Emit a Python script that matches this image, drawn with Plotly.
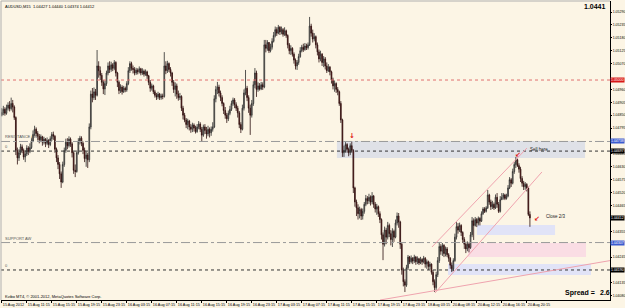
import plotly.graph_objects as go

# ---------------- data ----------------
symbol_header = "AUDUSD,M15  1.04427 1.04440 1.04374 1.04412"
current_bid = "1.0441"
spread_text = "2.6"
copyright_text = "Kvibo MT4, \u00a9 2001-2012, MetaQuotes Software Corp."

time_labels = ["15 Aug 2012", "15 Aug 11:15", "15 Aug 15:15", "15 Aug 19:15", "15 Aug 23:15",
               "16 Aug 03:15", "16 Aug 07:15", "16 Aug 11:15", "16 Aug 15:15", "16 Aug 19:15",
               "16 Aug 23:15", "17 Aug 03:15", "17 Aug 07:15", "17 Aug 11:15", "17 Aug 15:15",
               "17 Aug 19:15", "17 Aug 23:15", "18 Aug 03:15", "20 Aug 08:15", "20 Aug 12:15",
               "20 Aug 16:15", "20 Aug 20:15"]
time_label_bars = [0, 16, 32, 48, 64, 80, 96, 112, 128, 144, 160, 176, 192, 208, 224,
                   240, 256, 272, 288, 304, 320, 336]

# visible price scale labels (those hidden under the coloured price boxes are omitted)
price_ticks = [1.05290, 1.05235, 1.05180, 1.05125, 1.05070, 1.04960, 1.04905,
               1.04850, 1.04795, 1.04685, 1.04630, 1.04575, 1.04520, 1.04465,
               1.04355, 1.04245, 1.04135, 1.04080]

# prices in points (1e-5)
first_open_pts = 104850
close_pts = [
    104862,104875,104858,104880,104893,104878,104900,104885,104840,104700,
    104668,104690,104715,104700,104672,104685,104710,104695,104712,104740,
    104768,104790,104772,104760,104745,104758,104735,104748,104730,104742,
    104725,104750,104768,104760,104705,104668,104640,104600,104565,104640,
    104700,104735,104720,104748,104728,104690,104615,104610,104690,104740,
    104752,104730,104700,104665,104680,104660,104800,104940,104925,104950,
    104935,105060,105040,105020,104990,104962,104985,105030,105060,105045,
    105065,105050,105075,105030,104990,104955,104970,104950,104965,104958,
    104985,105040,105070,105050,105045,105030,105042,105035,105048,105030,
    105038,105025,105035,105018,104990,104965,104975,104950,104935,104928,
    104940,104925,104932,104930,105060,105040,105070,105045,105030,104990,
    104960,104975,104940,104925,104930,104880,104850,104830,104810,104825,
    104800,104790,104808,104795,104780,104800,104812,104790,104765,104800,
    104785,104770,104790,104775,104790,104800,104920,104960,104970,104945,
    104925,104900,104870,104850,104835,104858,104875,104900,104915,104895,
    104880,104860,104810,104790,104880,104945,104965,104925,104880,104850,
    104900,104980,105030,104960,104975,104962,104980,104970,105150,105135,
    105160,105125,105140,105165,105190,105215,105200,105225,105205,105215,
    105195,105210,105190,105150,105125,105135,105110,105085,105060,105075,
    105100,105125,105140,105130,105145,105138,105150,105230,105200,105175,
    105185,105150,105120,105090,105110,105075,105090,105060,105040,105055,
    105035,105000,104975,104985,104960,104950,104900,104830,104690,104700,
    104725,104705,104690,104720,104700,104540,104480,104455,104430,104448,
    104420,104440,104470,104495,104485,104500,104480,104505,104470,104450,
    104460,104430,104405,104340,104300,104360,104330,104380,104345,104320,
    104355,104330,104390,104420,104395,104300,104190,104140,104125,104200,
    104245,104225,104240,104228,104245,104225,104238,104220,104235,104225,
    104240,104215,104225,104205,104215,104180,104140,104115,104170,104230,
    104290,104270,104295,104260,104280,104255,104240,104210,104195,104230,
    104330,104375,104360,104380,104350,104320,104300,104280,104300,104285,
    104340,104400,104380,104405,104390,104410,104398,104430,104450,104440,
    104455,104510,104480,104460,104470,104455,104500,104470,104440,104490,
    104500,104510,104495,104505,104540,104575,104560,104610,104640,104660,
    104635,104620,104580,104560,104545,104555,104540,104427,104412]
high_pts = [
    104880,104890,104884,104895,104905,104910,104925,104915,104892,104845,
    104712,104705,104728,104725,104708,104700,104722,104718,104730,104752,
    104785,104805,104798,104782,104770,104768,104762,104758,104752,104755,
    104748,104760,104778,104780,104765,104712,104680,104650,104610,104652,
    104712,104750,104752,104760,104755,104735,104695,104640,104700,104752,
    104762,104760,104738,104712,104695,104690,104815,104955,104966,104968,
    104962,105128,105080,105058,105030,105000,104998,105040,105075,105080,
    105078,105072,105085,105080,105035,104998,104982,104978,104975,104972,
    104995,105055,105080,105078,105062,105055,105052,105050,105058,105052,
    105050,105045,105045,105040,105022,105000,104985,104980,104958,104945,
    104950,104945,104942,104942,105119,105080,105082,105075,105055,105035,
    105000,104990,104985,104955,104945,104935,104890,104860,104838,104835,
    104830,104812,104818,104815,104805,104812,104825,104820,104800,104810,
    104812,104800,104805,104798,104802,104820,104935,104975,104992,104980,
    104955,104935,104905,104885,104860,104870,104890,104912,104925,104923,
    104905,104890,104868,104820,104895,104960,105043,104975,104935,104895,
    104915,104995,105051,105040,104990,104987,104992,104990,105171,105171,
    105170,105162,105155,105178,105205,105228,105225,105235,105230,105228,
    105222,105225,105215,105195,105158,105148,105140,105118,105092,105085,
    105112,105140,105150,105155,105158,105155,105160,105269,105240,105215,
    105200,105190,105160,105130,105125,105115,105102,105098,105075,105068,
    105060,105040,105010,104998,104990,104970,104955,104910,104835,104720,
    104735,104731,104712,104730,104738,104705,104545,104490,104470,104460,
    104455,104452,104480,104510,104505,104515,104508,104522,104510,104480,
    104472,104465,104440,104410,104350,104375,104370,104395,104388,104360,
    104368,104362,104405,104435,104433,104400,104305,104200,104150,104212,
    104254,104250,104252,104245,104255,104250,104248,104242,104246,104240,
    104250,104245,104235,104230,104225,104218,104190,104150,104182,104245,
    104309,104300,104305,104300,104290,104288,104262,104245,104222,104240,
    104345,104394,104390,104392,104385,104355,104330,104310,104312,104308,
    104352,104416,104410,104416,104412,104418,104415,104440,104458,104458,
    104462,104531,104515,104490,104485,104478,104512,104518,104480,104505,
    104518,104518,104515,104515,104552,104586,104582,104622,104650,104672,
    104665,104645,104630,104590,104570,104565,104560,104545,104440]
low_pts = [
    104845,104850,104848,104852,104870,104866,104870,104862,104830,104680,
    104640,104655,104680,104688,104660,104650,104676,104680,104688,104706,
    104735,104760,104760,104742,104730,104735,104720,104725,104714,104722,
    104710,104718,104740,104745,104690,104650,104620,104578,104540,104560,
    104630,104690,104705,104712,104715,104670,104600,104586,104605,104682,
    104725,104718,104684,104650,104630,104625,104650,104790,104905,104915,
    104915,104930,105010,105000,104975,104940,104936,104975,105020,105030,
    105035,105038,105042,105015,104970,104940,104945,104938,104945,104948,
    104950,104978,105030,105040,105028,105020,105022,105024,105028,105020,
    105022,105015,105018,105005,104978,104950,104955,104940,104925,104915,
    104918,104915,104916,104918,104925,105025,105030,105034,105015,104975,
    104945,104930,104920,104912,104915,104868,104832,104820,104795,104790,
    104785,104775,104778,104780,104772,104775,104790,104778,104736,104758,
    104770,104750,104760,104755,104762,104780,104795,104905,104940,104930,
    104910,104888,104855,104835,104817,104825,104850,104868,104890,104880,
    104868,104840,104795,104774,104785,104870,104935,104910,104860,104766,
    104840,104890,104965,104928,104950,104955,104957,104958,104965,105118,
    105125,105115,105118,105130,105160,105182,105188,105195,105192,105195,
    105185,105188,105180,105135,105110,105107,105100,105070,105045,105043,
    105065,105095,105118,105120,105125,105128,105130,105145,105185,105160,
    105165,105135,105105,105075,105080,105060,105055,105045,105030,105034,
    105020,104985,104960,104950,104945,104935,104890,104817,104672,104672,
    104690,104690,104675,104680,104690,104518,104460,104420,104405,104410,
    104403,104405,104430,104462,104470,104472,104465,104470,104455,104435,
    104425,104416,104390,104320,104232,104290,104300,104320,104330,104295,
    104288,104310,104325,104380,104370,104280,104170,104120,104096,104118,
    104190,104215,104218,104215,104220,104212,104215,104211,104215,104212,
    104218,104200,104195,104190,104192,104170,104125,104096,104105,104160,
    104220,104255,104250,104245,104248,104245,104225,104195,104181,104185,
    104225,104320,104345,104352,104335,104305,104280,104262,104270,104265,
    104280,104330,104318,104375,104373,104380,104380,104395,104425,104433,
    104435,104450,104468,104446,104450,104446,104450,104455,104433,104435,
    104488,104490,104488,104490,104500,104535,104544,104555,104600,104625,
    104629,104605,104565,104545,104531,104532,104525,104420,104374]
open_pts = [first_open_pts] + close_pts[:-1]

# horizontal levels
level_prices = [1.05000, 1.04738, 1.04697, 1.04307, 1.04190]
level_names = ["", "RESISTANCE AW", "0", "SUPPORT AW", "0"]

# zones: (bar_from, bar_to, price_low, price_high)
zone_bar_from = [214.5, 304.1, 298.4, 285.6]
zone_bar_to = [373.3, 354.1, 373.9, 377.1]
zone_low = [1.04668, 1.04339, 1.04245, 1.04169]
zone_high = [1.04740, 1.04382, 1.04305, 1.04215]

# trend lines: (bar0, price0, bar1, price1)
trend_bar0 = [275.3, 277.3, 242.1]
trend_price0 = [1.04288, 1.04092, 1.04062]
trend_bar1 = [336.1, 345.7, 389.3]
trend_price1 = [1.04710, 1.04608, 1.04230]

# axis price boxes
axis_box_prices = [1.05000, 1.04738, 1.04697, 1.04412, 1.04307, 1.04190]

n = len(close_pts)
assert len(high_pts) == n and len(low_pts) == n
bars = list(range(n))
to_price = lambda v: [x / 1e5 for x in v]

BG = "#FCF5E5"
FONT = "Liberation Sans"

fig = go.Figure()
fig.add_trace(go.Candlestick(
    x=bars, open=to_price(open_pts), high=to_price(high_pts),
    low=to_price(low_pts), close=to_price(close_pts),
    increasing=dict(line=dict(color="#2a2a2a", width=0.8), fillcolor="#BDB8B0"),
    decreasing=dict(line=dict(color="#2a0c0c", width=0.8), fillcolor="#7A1C1C"),
    whiskerwidth=0, showlegend=False, hoverinfo="skip"))

shapes = []
zone_colors = ["#DFE1E7", "#E1E3F7", "#FADDE4", "#E1E3F7"]
for b0, b1, lo, hi, col in zip(zone_bar_from, zone_bar_to, zone_low, zone_high, zone_colors):
    shapes.append(dict(type="rect", xref="x", yref="y", x0=b0, x1=b1, y0=lo, y1=hi,
                       fillcolor=col, line=dict(width=0), layer="below"))

level_styles = [("#E07070", "dot"), ("#9a9a9a", "dashdot"), ("#333333", "dot"),
                ("#9a9a9a", "dashdot"), ("#333333", "dot")]
for p, (col, dash) in zip(level_prices, level_styles):
    shapes.append(dict(type="line", xref="paper", yref="y", x0=0, x1=1, y0=p, y1=p,
                       line=dict(color=col, width=1, dash=dash)))

for b0, p0, b1, p1 in zip(trend_bar0, trend_price0, trend_bar1, trend_price1):
    shapes.append(dict(type="line", xref="x", yref="y", x0=b0, y0=p0, x1=b1, y1=p1,
                       line=dict(color="#EFA3AE", width=1)))

# chart frame (top and left)
shapes.append(dict(type="line", xref="paper", yref="paper", x0=0, x1=1, y0=1, y1=1,
                   line=dict(color="#b0b0b0", width=1)))
shapes.append(dict(type="line", xref="paper", yref="paper", x0=0, x1=0, y0=0, y1=1,
                   line=dict(color="#b0b0b0", width=1)))

ann = []
ann.append(dict(text=symbol_header, xref="paper", yref="paper", x=0.004, y=0.997,
                xanchor="left", yanchor="top", showarrow=False,
                font=dict(family=FONT, size=4, color="#000")))
ann.append(dict(text="<b>" + current_bid + "</b>", xref="paper", yref="paper", x=0.996, y=0.98,
                xanchor="right", yanchor="middle", showarrow=False,
                font=dict(family=FONT, size=7, color="#000")))
ann.append(dict(text=copyright_text, xref="paper", yref="paper", x=0.004, y=0.012,
                xanchor="left", yanchor="middle", showarrow=False,
                font=dict(family=FONT, size=4, color="#000")))
ann.append(dict(text="<b>Spread =</b>", xref="paper", yref="paper", x=0.923, y=0.024,
                xanchor="left", yanchor="middle", showarrow=False,
                font=dict(family=FONT, size=7, color="#000")))
ann.append(dict(text="<b>" + spread_text + "</b>", xref="paper", yref="paper", x=0.980, y=0.024,
                xanchor="left", yanchor="middle", showarrow=False,
                font=dict(family=FONT, size=7, color="#000")))

for p, name in zip(level_prices, level_names):
    if name:
        ann.append(dict(text=name, xref="paper", yref="y", x=0.004, y=p,
                        xanchor="left", yanchor="bottom", showarrow=False,
                        font=dict(family=FONT, size=4, color="#555")))

ann.append(dict(text="Sell here", xref="x", yref="y", x=336.8, y=1.04702,
                xanchor="left", yanchor="middle", showarrow=False,
                font=dict(family=FONT, size=4.5, color="#222")))
ann.append(dict(text="Close 2/3", xref="x", yref="y", x=347.0, y=1.04416,
                xanchor="left", yanchor="middle", showarrow=False,
                font=dict(family=FONT, size=4.5, color="#222")))
for bx, py, glyph in [(224.1, 1.04761, "\u2193"), (330.4, 1.04680, "\u2199"), (342.5, 1.04407, "\u2199")]:
    ann.append(dict(text="<b>" + glyph + "</b>", xref="x", yref="y", x=bx, y=py,
                    xanchor="center", yanchor="middle", showarrow=False,
                    font=dict(family="DejaVu Sans", size=7, color="#E01010")))

box_colors = ["#D81818", "#3B5BD0", "#000000", "#000000", "#3B5BD0", "#000000"]
for p, col in zip(axis_box_prices, box_colors):
    ann.append(dict(text=f"{p:.5f}", xref="paper", yref="y", x=1.0, y=p,
                    xanchor="left", yanchor="middle", showarrow=False, bgcolor=col,
                    borderpad=0, font=dict(family=FONT, size=3.5, color="#fff")))

fig.update_layout(
    width=625, height=308,
    margin=dict(l=1, r=15, t=1, b=8, autoexpand=False),
    paper_bgcolor=BG, plot_bgcolor=BG,
    shapes=shapes, annotations=ann,
    xaxis=dict(range=[-0.5, 389.26], tickvals=time_label_bars, ticktext=time_labels,
               tickangle=0, automargin=False,
               ticks="outside", ticklen=2, tickcolor="#000", showgrid=False, zeroline=False,
               showline=True, linecolor="#000", linewidth=1, ticklabelposition="outside right",
               tickfont=dict(family=FONT, size=3.8, color="#000"), rangeslider=dict(visible=False),
               fixedrange=True),
    yaxis=dict(range=[1.04062, 1.05337], side="right", tickvals=price_ticks, automargin=False,
               tickformat=".5f", ticks="outside", ticklen=1, tickcolor="#000",
               showgrid=False, zeroline=False, showline=True, linecolor="#000", linewidth=1,
               tickfont=dict(family=FONT, size=3.5, color="#000"), fixedrange=True),
)

fig.write_html("out.html")
